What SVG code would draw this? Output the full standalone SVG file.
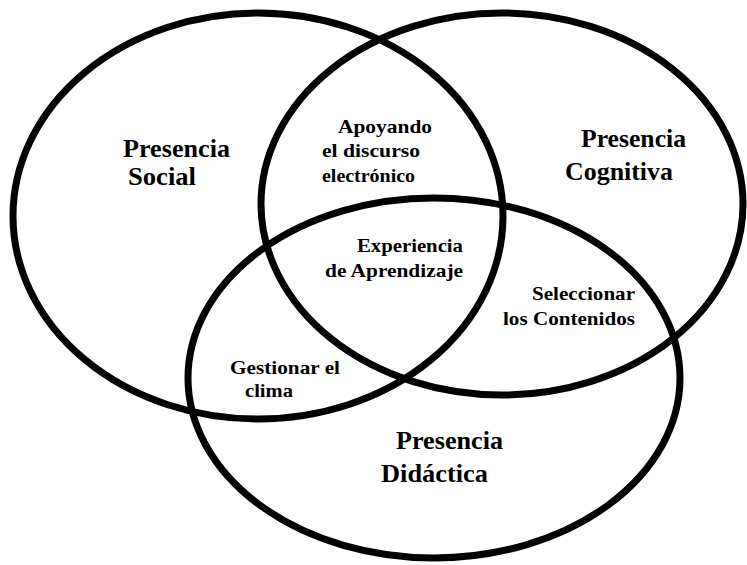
<svg xmlns="http://www.w3.org/2000/svg" width="747" height="565" viewBox="0 0 747 565">
<style>
.ring{fill:none;stroke:#000;stroke-width:7}
.big{font-family:"Liberation Serif","Times New Roman",serif;font-weight:bold;font-size:25px;fill:#000}
.small{font-family:"Liberation Serif","Times New Roman",serif;font-weight:bold;font-size:19px;fill:#000}
</style>
<rect width="747" height="565" fill="#fff"/>
<g id="social">
<ellipse class="ring" cx="258" cy="216" rx="245" ry="203"/>
<text class="big" x="123" y="157" textLength="107" lengthAdjust="spacingAndGlyphs">Presencia</text>
<text class="big" x="128" y="185" textLength="68" lengthAdjust="spacingAndGlyphs">Social</text>
</g>
<g id="cognitiva">
<ellipse class="ring" cx="502" cy="204" rx="241" ry="191"/>
<text class="big" x="581" y="147" textLength="105" lengthAdjust="spacingAndGlyphs">Presencia</text>
<text class="big" x="565" y="180" textLength="108" lengthAdjust="spacingAndGlyphs">Cognitiva</text>
</g>
<g id="didactica">
<ellipse class="ring" cx="434" cy="378" rx="246" ry="180"/>
<text class="big" x="396" y="449" textLength="107" lengthAdjust="spacingAndGlyphs">Presencia</text>
<text class="big" x="381" y="482" textLength="107" lengthAdjust="spacingAndGlyphs">Didáctica</text>
</g>
<g id="social-cognitiva">
<text class="small" x="338" y="133" textLength="94" lengthAdjust="spacingAndGlyphs">Apoyando</text>
<text class="small" x="322" y="157" textLength="98" lengthAdjust="spacingAndGlyphs">el discurso</text>
<text class="small" x="322" y="182" textLength="93" lengthAdjust="spacingAndGlyphs">electrónico</text>
</g>
<g id="centro">
<text class="small" x="357" y="252" textLength="106" lengthAdjust="spacingAndGlyphs">Experiencia</text>
<text class="small" x="325" y="277" textLength="138" lengthAdjust="spacingAndGlyphs">de Aprendizaje</text>
</g>
<g id="cognitiva-didactica">
<text class="small" x="532" y="300" textLength="103" lengthAdjust="spacingAndGlyphs">Seleccionar</text>
<text class="small" x="503" y="325" textLength="132" lengthAdjust="spacingAndGlyphs">los Contenidos</text>
</g>
<g id="social-didactica">
<text class="small" x="230" y="374" textLength="110" lengthAdjust="spacingAndGlyphs">Gestionar el</text>
<text class="small" x="245" y="397" textLength="48" lengthAdjust="spacingAndGlyphs">clima</text>
</g>
<g id="connectors"></g>
</svg>
